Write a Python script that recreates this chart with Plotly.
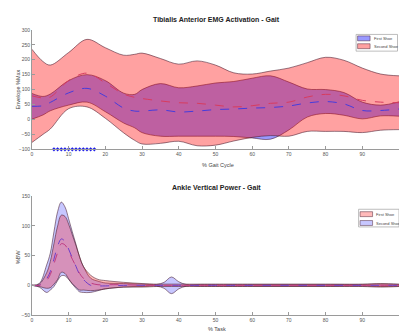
import plotly.graph_objects as go

# ---------------- Tibialis Anterior EMG (mean ± SD, % gait cycle) ----------------
emg_x = [0, 3, 5, 10, 15, 20, 25, 28, 30, 35, 40, 45, 50, 55, 60, 65, 70, 75, 80, 85, 90, 95, 100]
emg_first_mean = [44, 46, 57, 89, 104, 78, 38, 28, 28, 32, 25, 28, 33, 35, 38, 40, 45, 55, 60, 52, 30, 30, 35]
emg_first_sd = [43, 31, 28, 41, 46, 52, 50, 56, 72, 88, 81, 84, 89, 92, 100, 106, 80, 47, 40, 38, 28, 18, 24]
emg_second_mean = [79, 72, 75, 130, 155, 122, 85, 74, 70, 62, 56, 54, 48, 42, 46, 54, 58, 75, 84, 79, 64, 58, 56]
emg_second_sd = [156, 122, 107, 94, 113, 118, 130, 144, 152, 142, 129, 142, 134, 114, 106, 108, 114, 115, 124, 119, 108, 94, 90]
emg_signif_x = [6, 7, 8, 9, 10, 11, 12, 13, 14, 15, 16, 17]
emg_signif_y = [-100] * len(emg_signif_x)

# ---------------- Ankle vertical power (mean ± SD, % task) ----------------
pow_x = [0, 2, 4, 5, 6, 7, 8, 9, 10, 11, 12, 13, 14, 16, 18, 20, 25, 30, 34, 36, 38, 40, 42,
         46, 50, 60, 70, 80, 90, 95, 100]
pow_first_mean = [0, 0, 8, 18, 36, 55, 70, 68, 57, 44, 32, 20, 12, 4, 1, 1, 1, 0, 0, 0, 0, 0, 0,
                  0, 0, 0, 0, 0, 0, 0, 0]
pow_first_sd = [0, 2, 13, 22, 34, 45, 48, 48, 46, 41, 35, 28, 20, 13, 9, 7, 4, 3, 2, 2, 2, 2, 2,
                2, 2, 2, 2, 2, 2, 3, 2]
pow_second_mean = [0, 0, 11, 23, 44, 66, 78, 74, 61, 46, 32, 18, 10, 0, -1, -1, 0, 0, 0, 0, 0, 0, 0,
                   0, 0, 0, 0, 0, 0, 0, 0]
pow_second_sd = [0, 3, 23, 31, 46, 58, 62, 58, 51, 44, 37, 29, 22, 12, 8, 5, 3, 2, 1.5, 5, 14, 6, 1.5,
                 1.5, 1.5, 1.5, 1.5, 1.5, 1.5, 2, 1.5]

x_ticks = [0, 10, 20, 30, 40, 50, 60, 70, 80, 90, 100]
emg_y_ticks = [-100, -50, 0, 50, 100, 150, 200, 250, 300]
pow_y_ticks = [-50, 0, 50, 100, 150]

W, H = 399, 336
EDGE = "rgba(70,25,45,0.8)"
FONT = "Liberation Sans"

TOP_BLUE_FILL = "rgba(0,0,255,0.40)"
TOP_RED_FILL = "rgba(255,0,0,0.37)"
BOT_BLUE_FILL = "rgba(0,0,255,0.22)"
BOT_RED_FILL = "rgba(255,0,0,0.27)"

fig = go.Figure()


def add_band(x, mean, sd, fill, xa, ya):
    lower = [m - s for m, s in zip(mean, sd)]
    upper = [m + s for m, s in zip(mean, sd)]
    fig.add_trace(go.Scatter(x=x, y=lower, mode="lines", line=dict(color=EDGE, width=0.7, shape="spline"),
                             xaxis=xa, yaxis=ya, showlegend=False, hoverinfo="skip"))
    fig.add_trace(go.Scatter(x=x, y=upper, mode="lines", line=dict(color=EDGE, width=0.7, shape="spline"),
                             fill="tonexty", fillcolor=fill, xaxis=xa, yaxis=ya, showlegend=False,
                             hoverinfo="skip"))


def add_mean(x, mean, color, xa, ya):
    fig.add_trace(go.Scatter(x=x, y=mean, mode="lines",
                             line=dict(color=color, width=1.0, dash="dash", shape="spline"),
                             xaxis=xa, yaxis=ya, showlegend=False))


# EMG panel: first shoe (blue) under second shoe (red)
add_band(emg_x, emg_first_mean, emg_first_sd, TOP_BLUE_FILL, "x", "y")
add_band(emg_x, emg_second_mean, emg_second_sd, TOP_RED_FILL, "x", "y")
add_mean(emg_x, emg_second_mean, "rgb(215,60,95)", "x", "y")
add_mean(emg_x, emg_first_mean, "rgb(70,60,220)", "x", "y")
# significance markers along the bottom of the EMG panel
fig.add_trace(go.Scatter(x=emg_signif_x, y=emg_signif_y, mode="markers", cliponaxis=False,
                         marker=dict(symbol="diamond", size=3.2, color="rgb(30,30,230)",
                                     line=dict(width=0)),
                         xaxis="x", yaxis="y", showlegend=False))

# Power panel: second shoe (blue) under first shoe (red)
add_band(pow_x, pow_second_mean, pow_second_sd, BOT_BLUE_FILL, "x2", "y2")
add_band(pow_x, pow_first_mean, pow_first_sd, BOT_RED_FILL, "x2", "y2")
add_mean(pow_x, pow_second_mean, "rgb(110,60,200)", "x2", "y2")
add_mean(pow_x, pow_first_mean, "rgb(190,60,130)", "x2", "y2")


def px_x(p):
    return p / W


def px_y(p):
    return 1 - p / H


axis_common = dict(showline=True, linecolor="#9a9a9a", linewidth=0.8, ticks="inside", ticklen=3,
                   tickcolor="#9a9a9a", tickwidth=0.8, showgrid=False, zeroline=False, mirror=False,
                   tickfont=dict(family=FONT, size=5, color="#555555"))

x_dom = [px_x(31), 1.0]
fig.update_layout(
    width=W, height=H, margin=dict(l=0, r=0, t=0, b=0),
    paper_bgcolor="white", plot_bgcolor="white", showlegend=False,
    xaxis=dict(domain=x_dom, range=[0, 100], tickvals=x_ticks, anchor="y", **axis_common),
    yaxis=dict(domain=[px_y(149), px_y(27.3)], range=[-100, 300], tickvals=emg_y_ticks,
               anchor="x", **axis_common),
    xaxis2=dict(domain=x_dom, range=[0, 100], tickvals=x_ticks, anchor="y2", **axis_common),
    yaxis2=dict(domain=[px_y(317.7), px_y(196.7)], range=[-50, 150], tickvals=pow_y_ticks,
                anchor="x2", **axis_common),
)

annotations = [
    dict(text="<b>Tibialis Anterior EMG Activation - Gait</b>", x=px_x(216), y=px_y(17), size=7),
    dict(text="<b>Ankle Vertical Power - Gait</b>", x=px_x(216), y=px_y(188), size=7),
    dict(text="% Gait Cycle", x=px_x(218), y=px_y(165), size=5.5),
    dict(text="% Task", x=px_x(217), y=px_y(332), size=5.5),
    dict(text="Envelope %Max", x=px_x(17), y=px_y(88), size=5.5, angle=-90),
    dict(text="%BW", x=px_x(17), y=px_y(258), size=5.5, angle=-90),
]
for a in annotations:
    fig.add_annotation(text=a["text"], x=a["x"], y=a["y"], xref="paper", yref="paper",
                       showarrow=False, xanchor="center", yanchor="middle",
                       textangle=a.get("angle", 0),
                       font=dict(family=FONT, size=a["size"], color="#222222" if "<b>" in a["text"] else "#444444"))


# Hand-drawn compact legends
def legend_box(x0, y0, x1, y1, entries):
    fig.add_shape(type="rect", xref="paper", yref="paper", x0=px_x(x0), x1=px_x(x1),
                  y0=px_y(y0), y1=px_y(y1), line=dict(color="#a0a0a0", width=0.7),
                  fillcolor="white", layer="above")
    for (label, fill, top) in entries:
        fig.add_shape(type="rect", xref="paper", yref="paper", x0=px_x(x0 + 1.5), x1=px_x(x0 + 14),
                      y0=px_y(top), y1=px_y(top + 5), line=dict(color=EDGE, width=0.6),
                      fillcolor=fill, layer="above")
        fig.add_annotation(text=label, x=px_x(x0 + 15.5), y=px_y(top + 2.5), xref="paper", yref="paper",
                           showarrow=False, xanchor="left", yanchor="middle",
                           font=dict(family=FONT, size=4, color="#444444"))


legend_box(356, 32, 397.5, 49, [("First Shoe", TOP_BLUE_FILL, 33.5), ("Second Shoe", TOP_RED_FILL, 41.5)])
legend_box(358.5, 210, 399, 228, [("First Shoe", BOT_RED_FILL, 212.5), ("Second Shoe", BOT_BLUE_FILL, 221.5)])

fig.write_html("out.html")
